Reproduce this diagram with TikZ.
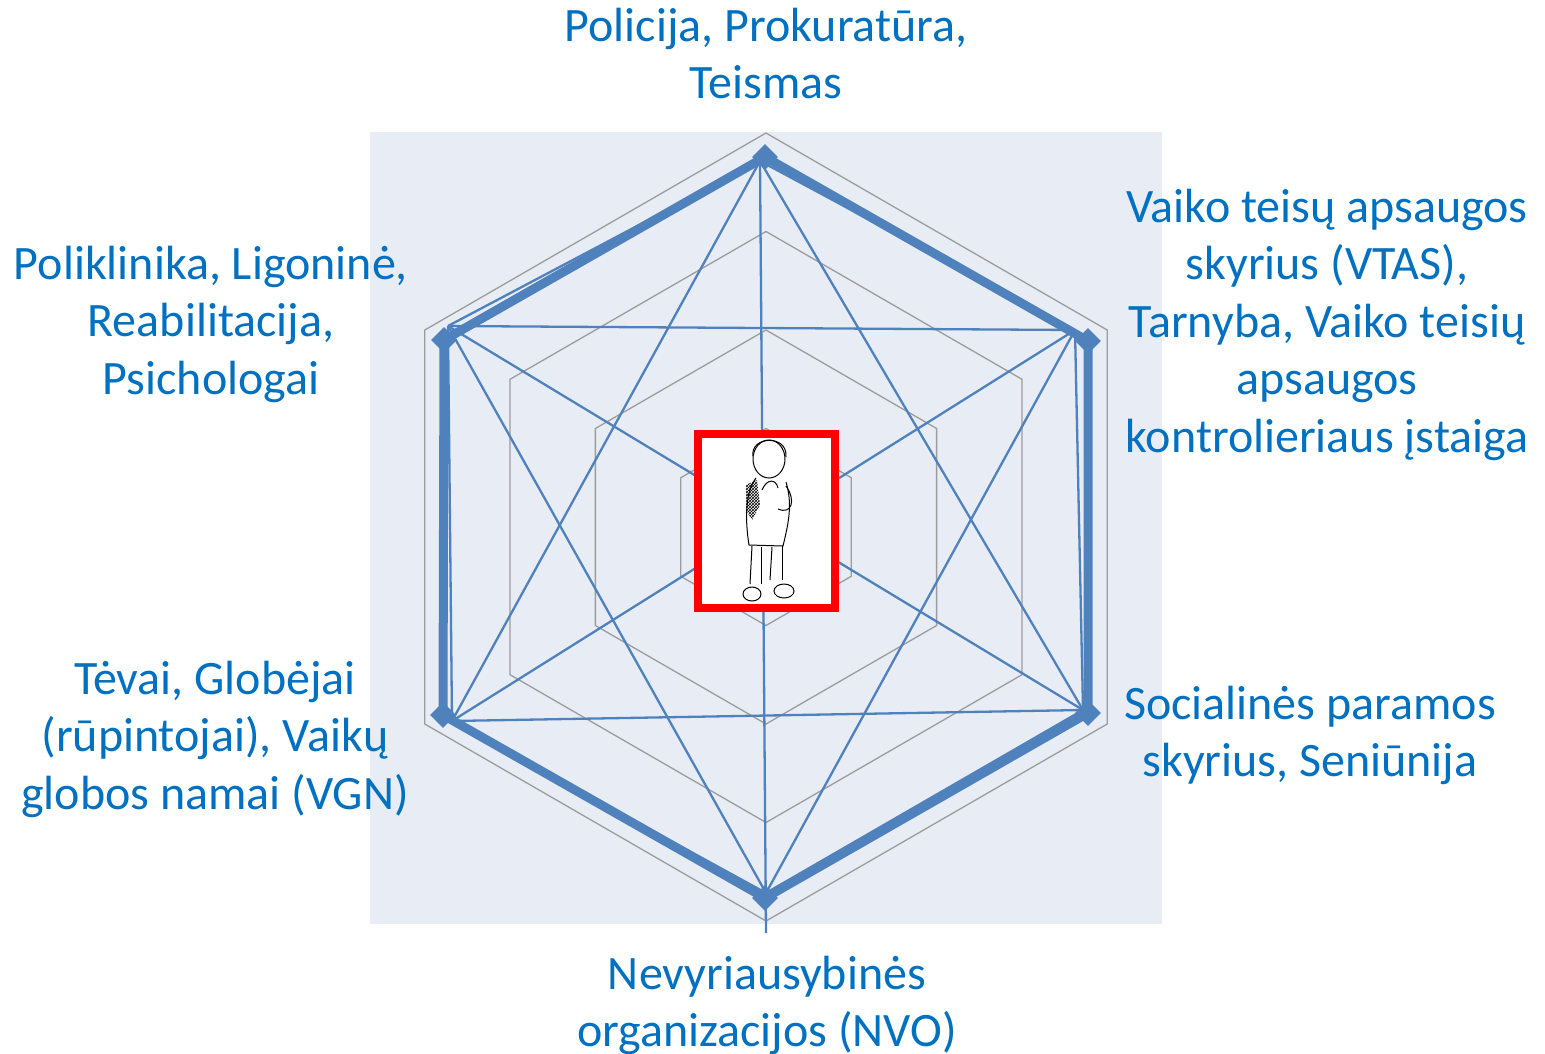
\documentclass[tikz,border=0pt]{standalone}
\usepackage{fontspec}
\setmainfont{Carlito}
\usepackage{xcolor}
\usepackage{tikz}
\usetikzlibrary{positioning}
\usetikzlibrary{shapes.geometric}
\usetikzlibrary{patterns}
\pgfdeclarelayer{nodelayer}
\pgfdeclarelayer{edgelayer}
\pgfsetlayers{edgelayer,nodelayer,main}
\definecolor{chartblue}{HTML}{4F81BD}
\definecolor{labelblue}{HTML}{0070C0}
\definecolor{gridgray}{HTML}{9C9C9C}
\definecolor{plotbg}{HTML}{E8ECF4}
\tikzset{
    none/.style = {inner sep=0pt},
    marker/.style = {diamond, fill=chartblue, inner sep=0pt, minimum size=26pt},
    party/.style = {align=center, text=labelblue, inner sep=0pt, anchor=north,
                    font=\fontsize{48}{57.5}\selectfont},
    gridline/.style = {draw=gridgray, line width=1.3pt},
    ringline/.style = {draw=chartblue, line width=9pt, line join=round},
    thinlink/.style = {draw=chartblue, line width=2.3pt}
}

\begin{document}
\begin{tikzpicture}[x=1pt, y=-1pt]
  \useasboundingbox (0,0) rectangle (1545,1053);
  \begin{pgfonlayer}{nodelayer}
    \node [marker] (0) at (765, 157) {};
    \node [marker] (1) at (1088, 341) {};
    \node [marker] (2) at (1088, 713) {};
    \node [marker] (3) at (765, 898) {};
    \node [marker] (4) at (443, 715) {};
    \node [marker] (5) at (444, 340) {};
    \node [style=none] (6) at (760, 161) {};
    \node [style=none] (7) at (1075, 330) {};
    \node [style=none] (8) at (1083, 710) {};
    \node [style=none] (9) at (766, 893) {};
    \node [style=none] (10) at (452, 721) {};
    \node [style=none] (11) at (448, 326) {};
    \node [style=none] (12) at (766, 933) {};
    \node [draw=red, line width=8pt, fill=white, inner sep=0pt,
           minimum width=137pt, minimum height=174pt] (13) at (766.5, 521) {};
    \node [party] (14) at (766, 0.75) {\strut Policija, Prokuratūra,\\ Teismas};
    \node [party] (15) at (1327, 181.75) {\strut Vaiko teisų apsaugos\\ skyrius (VTAS),\\ Tarnyba, Vaiko teisių\\ apsaugos\\ kontrolieriaus įstaiga};
    \node [party] (16) at (1310, 678.75) {\strut Socialinės paramos\\ skyrius, Seniūnija};
    \node [party] (17) at (767, 948.75) {\strut Nevyriausybinės\\ organizacijos (NVO)};
    \node [party] (18) at (215, 653.75) {\strut Tėvai, Globėjai\\ (rūpintojai), Vaikų\\ globos namai (VGN)};
    \node [party] (19) at (211, 238.75) {\strut Poliklinika, Ligoninė,\\ Reabilitacija,\\ Psichologai};
  \end{pgfonlayer}
  \begin{pgfonlayer}{edgelayer}
    % plot area and grid rings
    \fill [plotbg] (370, 132) rectangle (1162, 924);
    \draw [gridline, shift={(766,527)}] (90:98.5) -- (30:98.5) -- (-30:98.5) -- (-90:98.5) -- (-150:98.5) -- (150:98.5) -- cycle;
    \draw [gridline, shift={(766,527)}] (90:197) -- (30:197) -- (-30:197) -- (-90:197) -- (-150:197) -- (150:197) -- cycle;
    \draw [gridline, shift={(766,527)}] (90:295.5) -- (30:295.5) -- (-30:295.5) -- (-90:295.5) -- (-150:295.5) -- (150:295.5) -- cycle;
    \draw [gridline, shift={(766,527)}] (90:394) -- (30:394) -- (-30:394) -- (-90:394) -- (-150:394) -- (150:394) -- cycle;
    % links between all services
    \draw [thinlink] (6.center) to (7.center);
    \draw [thinlink] (6.center) to (8.center);
    \draw [thinlink] (6.center) to (12.center);
    \draw [thinlink] (6.center) to (10.center);
    \draw [thinlink] (6.center) to (11.center);
    \draw [thinlink] (7.center) to (8.center);
    \draw [thinlink] (7.center) to (9.center);
    \draw [thinlink] (7.center) to (10.center);
    \draw [thinlink] (7.center) to (11.center);
    \draw [thinlink] (8.center) to (9.center);
    \draw [thinlink] (8.center) to (10.center);
    \draw [thinlink] (8.center) to (11.center);
    \draw [thinlink] (9.center) to (10.center);
    \draw [thinlink] (9.center) to (11.center);
    \draw [thinlink] (10.center) to (11.center);
    \draw [ringline] (0.center) -- (1.center) -- (2.center) -- (3.center) -- (4.center) -- (5.center) -- cycle;
  \end{pgfonlayer}
  % child sketch
  \draw [line width=1pt] (769, 459) ellipse [x radius=16, y radius=19];
  \draw [line width=1pt] (753, 456) .. controls (750, 436) and (788, 434) .. (786, 457);
  \draw [line width=1pt] (756, 478) .. controls (745, 492) and (745, 520) .. (749, 545) -- (783, 546) .. controls (788, 525) and (793, 505) .. (786, 482);
  \fill [pattern=crosshatch] (746, 485) -- (757, 480) -- (760, 505) -- (752, 520) -- (746, 510) -- cycle;
  \draw [line width=1pt] (762, 490) .. controls (767, 478) and (776, 479) .. (778, 488);
  \draw [line width=1pt] (786, 486) .. controls (796, 500) and (792, 515) .. (778, 509);
  \draw [line width=1pt] (752, 546) -- (750, 584);
  \draw [line width=1pt] (761, 547) -- (761, 584);
  \draw [line width=1pt] (772, 547) -- (770, 580);
  \draw [line width=1pt] (782, 546) -- (782, 580);
  \draw [line width=1pt] (752, 594) ellipse [x radius=9, y radius=7];
  \draw [line width=1pt] (784, 591) ellipse [x radius=10, y radius=7];
\end{tikzpicture}
\end{document}
